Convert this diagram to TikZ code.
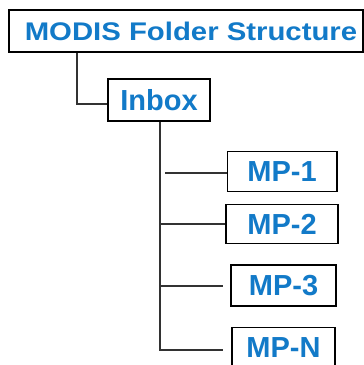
\documentclass[tikz,border=0pt]{standalone}
\usepackage{fontspec}
\setmainfont{Liberation Sans}
\newfontfamily\titlefont{Liberation Sans}[FakeStretch=1.15]
\definecolor{txtblue}{RGB}{18,122,200}
\definecolor{linegray}{RGB}{50,50,50}
\begin{document}
\begin{tikzpicture}[x=1pt,y=-1pt,
  box/.style={draw=black,line width=1.5pt,fill=white,inner sep=0pt,
    text=txtblue,font=\fontsize{29}{32}\selectfont\bfseries},
  conn/.style={draw=linegray,line width=1.4pt}]
\useasboundingbox (0,0) rectangle (364,365);
\node[box,minimum width=354pt,minimum height=42pt,
  font=\titlefont\fontsize{25.5}{30}\selectfont\bfseries] (title) at (186,31) {\hspace*{10pt}MODIS Folder Structure};
\node[box,minimum width=102pt,minimum height=42pt] (inbox) at (159,100) {Inbox};
\node[box,minimum width=109.5pt,minimum height=40pt] (mp1) at (282,171.5) {MP-1};
\node[box,minimum width=112pt,minimum height=39pt] (mp2) at (282,224) {MP-2};
\node[box,minimum width=105pt,minimum height=41pt] (mp3) at (283.5,285.5) {MP-3};
\node[box,minimum width=103pt,minimum height=41pt] (mpn) at (283.5,348) {MP-N};
\coordinate (c1) at (77,104);
\coordinate (trunk) at (160,350);
\coordinate (a1) at (165,173);
\coordinate (b3) at (223,286);
\coordinate (bn) at (223,350);
\draw[conn] (title.south -| c1) -- (c1) -- (inbox.west |- c1);
\draw[conn] (inbox.south -| trunk) -- (trunk) -- (bn);
\draw[conn] (a1) -- (mp1.west |- a1);
\draw[conn] (trunk |- mp2.west) -- (mp2.west);
\draw[conn] (trunk |- b3) -- (b3);
\end{tikzpicture}
\end{document}
